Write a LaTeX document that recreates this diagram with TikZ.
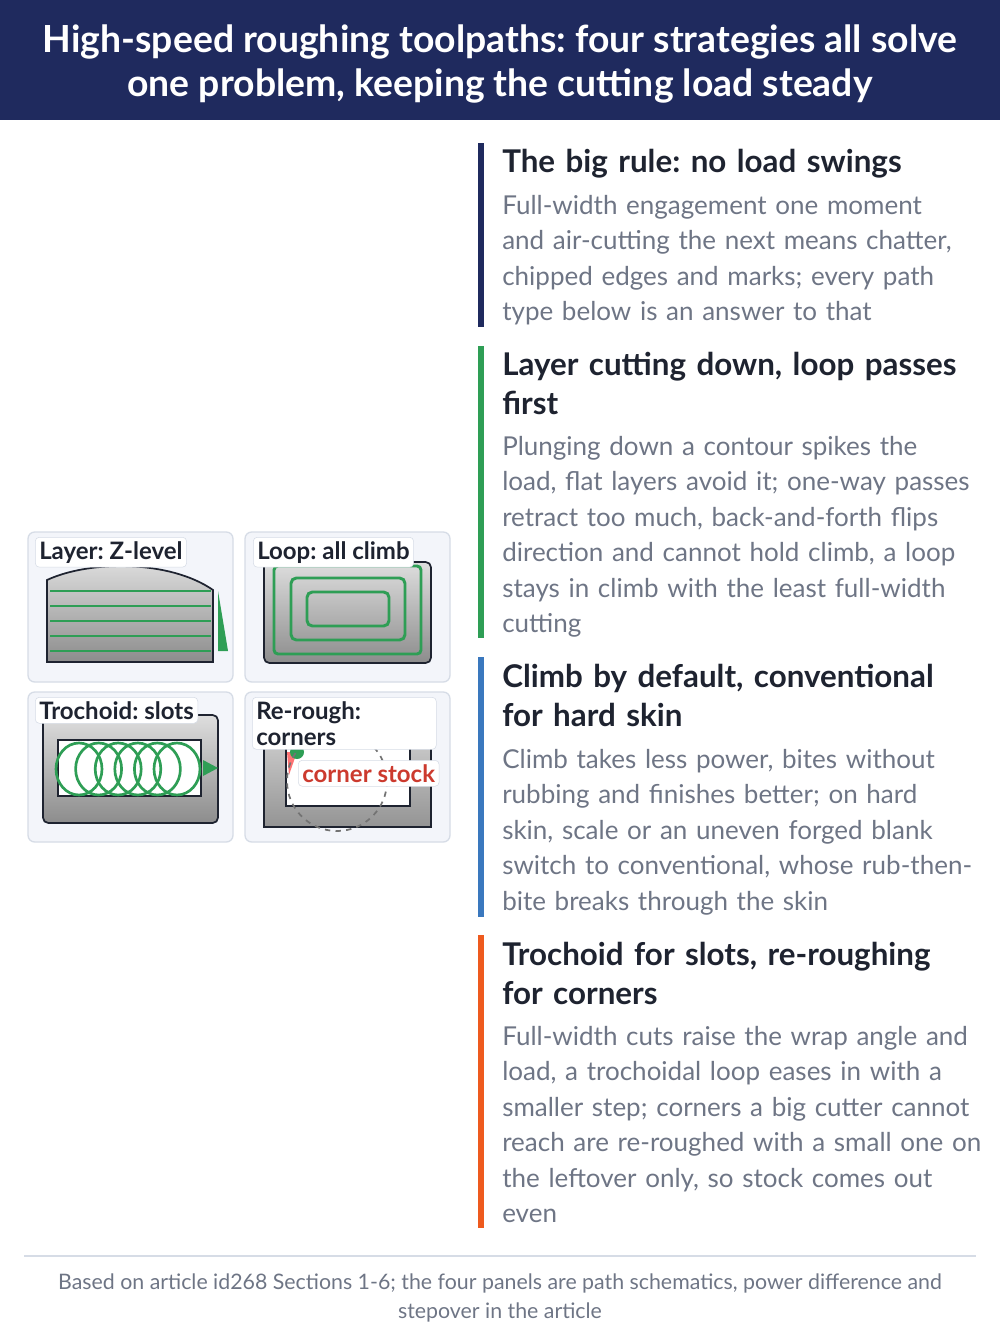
\documentclass[tikz,border=0pt]{standalone}
\usepackage{fontspec}
\setmainfont{Lato}
\definecolor{navy}{HTML}{1F2A5E}
\definecolor{grn}{HTML}{2E9E55}
\definecolor{blu}{HTML}{3A78BE}
\definecolor{org}{HTML}{EE5A1E}
\definecolor{body}{HTML}{6E7585}
\definecolor{head}{HTML}{1E2330}
\definecolor{pbg}{HTML}{F3F5FA}
\definecolor{pbd}{HTML}{D6DCE6}
\definecolor{redt}{HTML}{CC3A2E}
\frenchspacing
\begin{document}
\begin{tikzpicture}[x=0.75pt,y=-0.75pt,
 hd/.style={anchor=north west,align=left,text=head,font=\fontsize{23.5}{29}\selectfont\bfseries,inner sep=0pt,text width=400pt},
 bd/.style={anchor=north west,align=left,text=body,font=\fontsize{19.5}{26.6}\selectfont,inner sep=0pt,text width=400pt},
 panel/.style={draw=pbd,fill=pbg,rounded corners=5pt,line width=1pt},
 blk/.style={draw=head,line width=1.3pt,top color=black!13,bottom color=black!45},
 lbl/.style={draw=pbd,fill=white,rounded corners=3pt,anchor=north west,font=\fontsize{18}{19.5}\selectfont\bfseries,text=head,inner sep=3pt,align=left},
 gl/.style={draw=grn,line width=2.2pt}]
\useasboundingbox (0,0) rectangle (1000,1342);
\fill[navy] (0,0) rectangle (1000,120);
\node[text=white,font=\fontsize{28}{33}\selectfont\bfseries,align=center] (title) at (500,64) {High-speed roughing toolpaths: four strategies all solve\\one problem, keeping the cutting load steady};
% sections
\fill[navy] (478,143) rectangle (484,327);
\node[hd] (h1) at (502,149) {The big rule: no load swings};
\node[bd] (b1) at (502,195) {Full-width engagement one moment\\and air-cutting the next means chatter,\\chipped edges and marks; every path\\type below is an answer to that};
\fill[grn] (478,346) rectangle (484,638);
\node[hd] (h2) at (502,352) {Layer cutting down, loop passes\\first};
\node[bd] (b2) at (502,436) {Plunging down a contour spikes the\\load, flat layers avoid it; one-way passes\\retract too much, back-and-forth flips\\direction and cannot hold climb, a loop\\stays in climb with the least full-width\\cutting};
\fill[blu] (478,657) rectangle (484,917);
\node[hd] (h3) at (502,664) {Climb by default, conventional\\for hard skin};
\node[bd] (b3) at (502,749) {Climb takes less power, bites without\\rubbing and finishes better; on hard\\skin, scale or an uneven forged blank\\switch to conventional, whose rub-then-\\bite breaks through the skin};
\fill[org] (478,935) rectangle (484,1228);
\node[hd] (h4) at (502,942) {Trochoid for slots, re-roughing\\for corners};
\node[bd] (b4) at (502,1026) {Full-width cuts raise the wrap angle and\\load, a trochoidal loop eases in with a\\smaller step; corners a big cutter cannot\\reach are re-roughed with a small one on\\the leftover only, so stock comes out\\even};
\draw[pbd,line width=1pt] (24,1256) -- (976,1256);
\node[text=body,font=\fontsize{16}{22}\selectfont,align=center] (foot) at (500,1298) {Based on article id268 Sections 1-6; the four panels are path schematics, power difference and\\stepover in the article};
% panel 1
\draw[panel] (28,532) rectangle (233,682);
\draw[blk] (47,662) -- (47,580) .. controls (90,560) and (170,560) .. (213,590) -- (213,662) -- cycle;
\foreach \y in {591,606,621,636,651} \draw[gl] (50,\y) -- (211,\y);
\fill[grn] (218,591) -- (228,651) -- (218,651) -- cycle;
\node[lbl] (l1) at (35,537) {Layer: Z-level};
% panel 2
\draw[panel] (245,532) rectangle (450,682);
\draw[blk,rounded corners=4pt] (264,562) rectangle (431,663);
\draw[gl,rounded corners=3pt] (274,566) rectangle (421,654);
\draw[gl,rounded corners=4pt] (291,578) rectangle (405,640);
\draw[gl,rounded corners=4pt] (307,592) rectangle (389,626);
\node[lbl] (l2) at (253,537) {Loop: all climb};
% panel 3
\draw[panel] (28,692) rectangle (233,842);
\draw[blk,rounded corners=4pt] (43,715) rectangle (218,823);
\draw[fill=white,draw=head,line width=1pt] (58,740) rectangle (201,796);
\foreach \x in {79,98.6,118.2,137.8,157.4,177} \draw[grn,line width=2pt] (\x,769) ellipse (23 and 26);
\fill[grn] (203,760) -- (218,768) -- (203,776) -- cycle;
\node[lbl] (l3) at (35,697) {Trochoid: slots};
% panel 4
\draw[panel] (245,692) rectangle (450,842);
\draw[draw=head,line width=1.3pt,top color=black!22,bottom color=black!42] (264,745) rectangle (431,827);
\fill[white] (286,745) rectangle (410,806);
\draw[head,line width=1pt] (286,745) -- (286,806) -- (410,806) -- (410,745);
\fill[red!55] (287,752) -- (297,752) -- (289,775) -- cycle;
\fill[grn] (297,752) circle (7);
\draw[black!55,line width=1.3pt,dash pattern=on 4pt off 4pt] (337,781) circle (50);
\node[lbl,text width=132pt] (l4) at (252,697) {Re-rough:\\corners};
\node[lbl,text=redt] (cs) at (298,760) {corner stock};
\end{tikzpicture}
\end{document}
